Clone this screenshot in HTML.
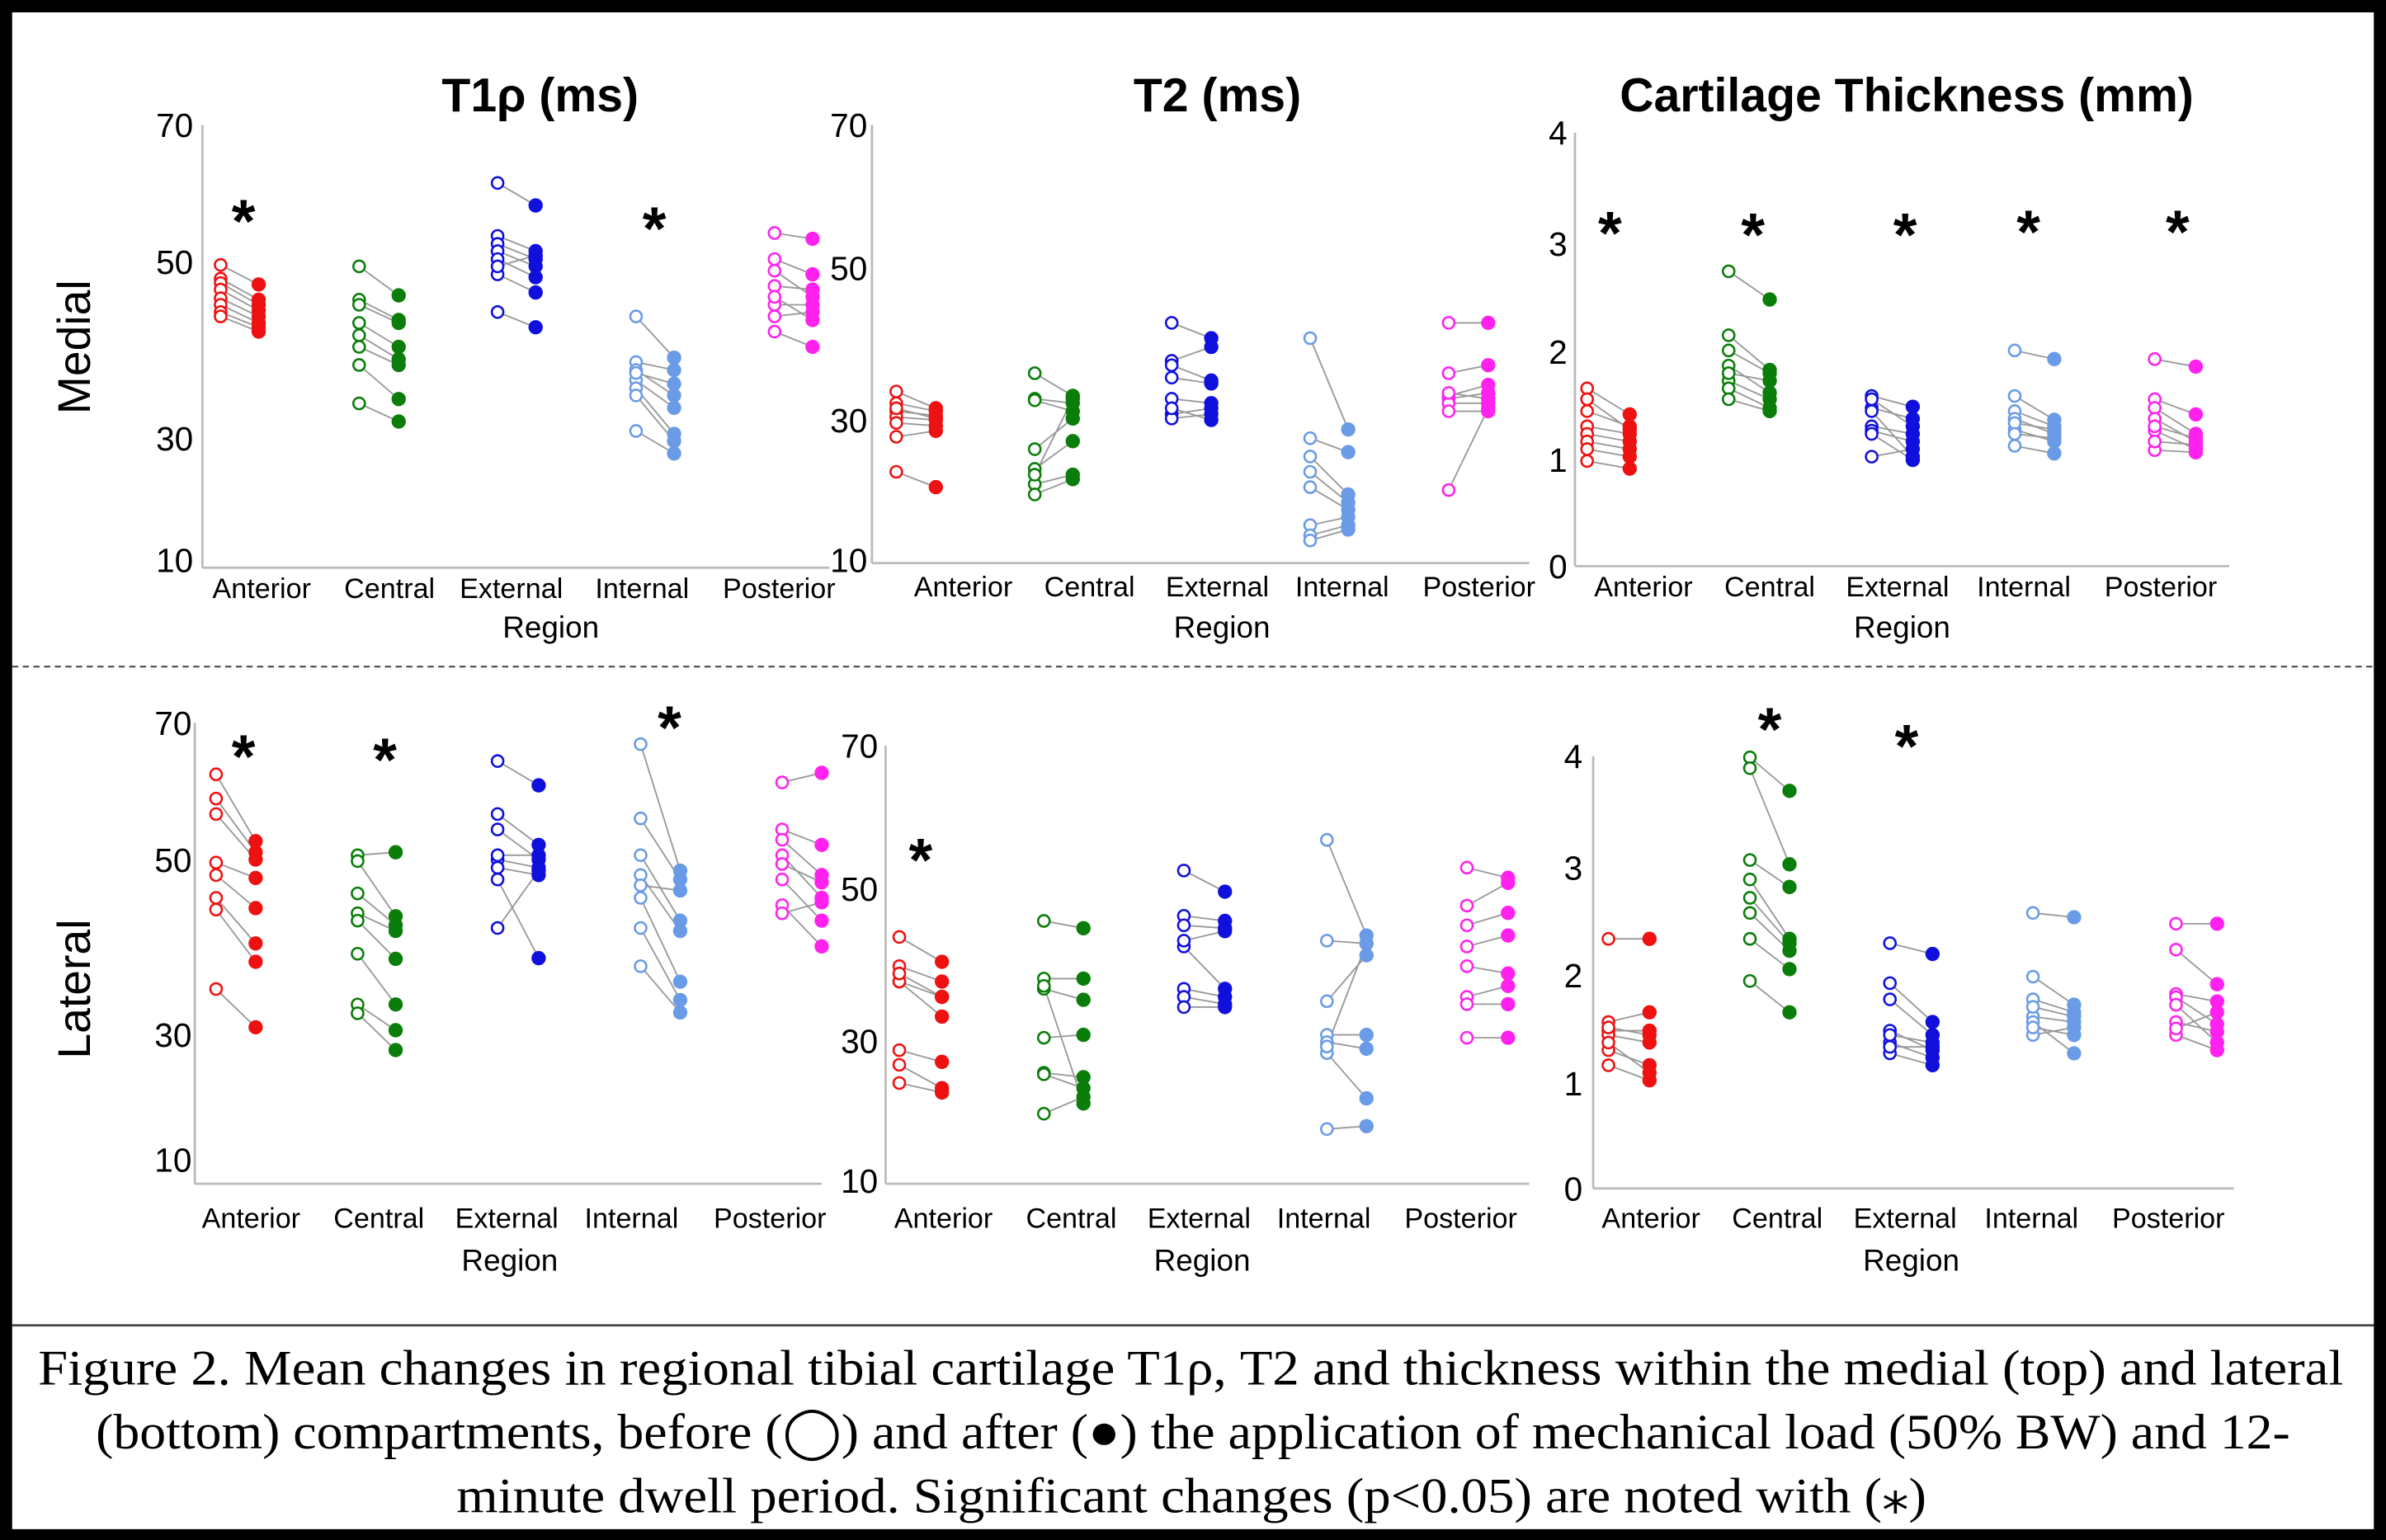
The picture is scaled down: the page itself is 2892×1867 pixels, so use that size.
<!DOCTYPE html>
<html><head><meta charset="utf-8"><style>
html,body{margin:0;padding:0;background:#000;}
svg{display:block;}
text{font-family:"Liberation Sans",sans-serif;}
</style></head><body>
<svg id="fig" width="2892" height="1867" viewBox="0 0 1568 1012" xmlns="http://www.w3.org/2000/svg">
<rect x="0" y="0" width="1568" height="1012" fill="#000"/>
<rect x="8" y="8" width="1552" height="997" fill="#fff"/>
<line x1="8" y1="871" x2="1560" y2="871" stroke="#444" stroke-width="1.5"/>
<line x1="8" y1="438" x2="1560" y2="438" stroke="#555" stroke-width="1.2" stroke-dasharray="4,3"/>
<text x="355" y="73" font-size="31" font-weight="bold" text-anchor="middle">T1ρ (ms)</text>
<text x="800" y="73" font-size="31" font-weight="bold" text-anchor="middle">T2 (ms)</text>
<text x="1253" y="73" font-size="31" font-weight="bold" text-anchor="middle">Cartilage Thickness (mm)</text>
<text transform="translate(59,228) rotate(-90)" font-size="30" text-anchor="middle">Medial</text>
<text transform="translate(59,650) rotate(-90)" font-size="30" text-anchor="middle">Lateral</text>
<g font-size="33">
<text x="25" y="910" textLength="1515" lengthAdjust="spacingAndGlyphs" style="font-family:'Liberation Serif',serif">Figure 2. Mean changes in regional tibial cartilage T1ρ, T2 and thickness within the medial (top) and lateral</text>
<text x="63" y="952" textLength="1442" lengthAdjust="spacingAndGlyphs" style="font-family:'Liberation Serif',serif">(bottom) compartments, before (◯) and after (●) the application of mechanical load (50% BW) and 12-</text>
<text x="300" y="994" textLength="966" lengthAdjust="spacingAndGlyphs" style="font-family:'Liberation Serif',serif">minute dwell period. Significant changes (p&lt;0.05) are noted with (⁎)</text>
</g>
<g id="plots"></g>
</svg>
<script>
const categories = ["Anterior","Central","External","Internal","Posterior"];
const colors = ["#ee1111","#0a7d0a","#1010dd","#6a9be6","#ff22ee"];
const p1Pre = [[50.7,48.8,48.2,47.3,46.1,45.2,44.2,43.6],[50.5,45.9,45.2,42.7,41.0,39.4,36.9,31.6],[62.0,54.7,53.6,52.6,51.5,49.4,44.2,50.5],[43.6,37.3,36.2,34.8,33.7,32.7,27.8,35.8],[55.1,51.5,49.9,45.2,43.6,41.5,47.8,46.3]];
const p1Post = [[48.0,45.9,45.2,44.4,43.6,42.7,42.1,41.5],[46.5,43.1,42.7,39.4,37.7,36.9,32.2,29.1],[58.9,52.6,51.5,50.5,49.0,46.9,42.1,52.0],[37.9,36.2,32.7,31.0,27.4,26.4,24.7,34.3],[54.3,49.4,46.3,45.2,44.2,39.4,47.3,43.1]];
const p2Pre = [[33.5,31.9,30.8,30.0,29.2,27.3,22.5,31.2],[36.0,32.5,32.3,25.6,22.9,20.8,19.4,22.1],[42.9,37.7,37.1,35.4,32.5,30.4,29.8,31.2],[40.8,27.1,24.6,22.5,20.4,15.2,13.8,13.1],[42.9,36.0,32.9,32.5,31.9,30.8,20.0,33.3]];
const p2Post = [[31.2,30.8,30.2,29.6,28.8,28.1,20.4,29.8],[32.9,31.9,30.8,29.8,26.7,22.1,21.5,32.5],[40.8,39.6,35.0,34.6,31.9,31.2,30.4,29.6],[28.3,25.2,19.4,18.3,17.3,16.3,15.2,14.6],[42.9,37.1,34.4,33.3,31.9,30.8,31.2,32.5]];
const p3Pre = [[1.64,1.43,1.29,1.22,1.15,1.08,0.97,1.54],[2.72,2.13,1.99,1.85,1.71,1.64,1.54,1.78],[1.57,1.46,1.29,1.25,1.01,1.43,1.22,1.54],[1.99,1.57,1.43,1.36,1.26,1.11,1.32,1.22],[1.91,1.54,1.46,1.36,1.25,1.07,1.29,1.15]];
const p3Post = [[1.40,1.29,1.22,1.15,1.08,1.01,0.90,1.26],[2.46,1.81,1.78,1.60,1.54,1.46,1.43,1.71],[1.47,1.36,1.22,1.15,1.08,1.01,0.98,1.29],[1.91,1.35,1.29,1.22,1.15,1.04,1.26,1.18],[1.84,1.40,1.22,1.15,1.08,1.05,1.18,1.12]];
const p4Pre = [[63.0,59.7,57.6,51.0,49.3,46.2,44.6,33.8],[52.0,51.2,46.8,44.1,43.1,38.6,31.7,30.5],[64.8,57.6,55.5,51.4,50.3,48.7,42.1,52.0],[67.1,57.0,52.0,49.3,46.2,42.1,36.9,47.9],[61.9,55.5,54.1,52.0,48.7,45.2,44.1,50.8]];
const p4Post = [[53.9,52.4,51.4,48.9,44.8,40.0,37.5,28.6],[52.4,43.7,42.5,41.7,37.9,31.7,28.2,25.5],[61.5,53.4,51.4,50.3,49.3,38.0,49.9,52.0],[49.9,48.7,43.1,41.7,34.8,32.3,30.6,47.2],[63.2,53.4,49.3,46.2,43.1,39.6,45.6,48.3]];
const p5Pre = [[43.8,39.8,37.7,37.7,28.3,26.3,23.8,38.8],[46.0,38.1,36.7,30.0,25.2,25.0,19.6,37.1],[52.9,46.7,45.4,42.5,36.7,35.6,34.2,43.3],[57.1,43.3,35.0,30.4,29.4,27.9,17.5,28.8],[53.3,48.1,45.4,42.5,39.8,35.6,34.6,30.0]];
const p5Post = [[40.4,37.7,35.6,32.9,26.7,23.1,22.5,35.6],[45.0,38.1,35.2,30.4,24.6,23.1,21.9,21.0],[50.0,46.0,45.0,36.7,35.6,34.6,34.2,44.6],[44.0,42.9,41.3,30.4,28.5,21.7,17.9,42.9],[51.9,51.2,47.1,44.0,38.8,37.1,34.6,30.0]];
const p6Pre = [[2.31,1.54,1.46,1.42,1.28,1.14,1.49,1.35],[3.99,3.89,3.04,2.86,2.69,2.31,1.92,2.55],[2.27,1.90,1.75,1.46,1.35,1.25,1.42,1.31],[2.55,1.96,1.75,1.59,1.42,1.54,1.68,1.49],[2.45,2.21,1.80,1.77,1.54,1.42,1.48,1.70]];
const p6Post = [[2.31,1.63,1.46,1.35,1.14,1.00,1.42,1.07],[3.68,3.00,2.79,2.31,2.27,2.03,1.63,2.20],[2.17,1.54,1.42,1.28,1.21,1.14,1.35,1.31],[2.51,1.70,1.63,1.54,1.49,1.25,1.59,1.42],[2.45,1.89,1.73,1.52,1.45,1.28,1.63,1.35]];
const t1Ticks = ["70","50","30","10"];
const thickTicks = ["4","3","2","1","0"];
const p1Sig = [0,3], p2Sig = [], p3Sig = [0,1,2,3,4], p4Sig = [0,1,3], p5Sig = [0], p6Sig = [1,2];

const panels = [
 {name:"medial-t1rho",pre:p1Pre,post:p1Post,sig:p1Sig,ax:133,top:82,bot:373,right:545,vmin:10,vmax:70,y0:368,y1:82,ticks:t1Ticks,tickY:[82,172,288,368],tx:127,cx:[172,256,336,422,512],preX:[145,236,327,418,509],postX:[170,262,352,443,534],regionX:362,regionY:419,catY:393,sigX:[160,0,0,430,0],sigY:[137,0,0,142,0]},
 {name:"medial-t2",pre:p2Pre,post:p2Post,sig:p2Sig,ax:573,top:82,bot:370,right:1005,vmin:10,vmax:70,y0:370,y1:82,ticks:t1Ticks,tickY:[82,176,276,368],tx:570,cx:[633,716,800,882,972],preX:[589,680,770,861,952],postX:[615,705,796,886,978],regionX:803,regionY:419,catY:392,sigX:[],sigY:[]},
 {name:"medial-thickness",pre:p3Pre,post:p3Post,sig:p3Sig,ax:1035,top:87,bot:372,right:1465,vmin:0,vmax:4,y0:372,y1:87,ticks:thickTicks,tickY:[87,160,231,302,372],tx:1030,cx:[1080,1163,1247,1330,1420],preX:[1043,1136,1230,1324,1416],postX:[1071,1163,1257,1350,1443],regionX:1250,regionY:419,catY:392,sigX:[1058,1152,1252,1333,1431],sigY:[145,146,146,144,144]},
 {name:"lateral-t1rho",pre:p4Pre,post:p4Post,sig:p4Sig,ax:128,top:475,bot:778,right:540,vmin:10,vmax:70,y0:765,y1:475,ticks:t1Ticks,tickY:[475,565,680,762],tx:126,cx:[165,249,333,415,506],preX:[142,235,327,421,514],postX:[168,260,354,447,540],regionX:335,regionY:835,catY:807,sigX:[160,253,0,440,0],sigY:[489,491,0,470,0]},
 {name:"lateral-t2",pre:p5Pre,post:p5Post,sig:p5Sig,ax:582,top:490,bot:778,right:1005,vmin:10,vmax:70,y0:778,y1:490,ticks:t1Ticks,tickY:[490,584,684,776],tx:577,cx:[620,704,788,870,960],preX:[591,686,778,872,964],postX:[619,712,805,898,991],regionX:790,regionY:835,catY:807,sigX:[605],sigY:[557]},
 {name:"lateral-thickness",pre:p6Pre,post:p6Post,sig:p6Sig,ax:1047,top:497,bot:781,right:1468,vmin:0,vmax:4,y0:781,y1:497,ticks:thickTicks,tickY:[497,570,641,712,781],tx:1040,cx:[1085,1168,1252,1335,1425],preX:[1057,1150,1242,1336,1430],postX:[1084,1176,1270,1363,1457],regionX:1256,regionY:835,catY:807,sigX:[0,1163,1253],sigY:[0,471,482]}
];
const NS="http://www.w3.org/2000/svg";
const root=document.getElementById("plots");
function mk(tag,attrs,parent){const e=document.createElementNS(NS,tag);for(const k in attrs)e.setAttribute(k,attrs[k]);parent.appendChild(e);return e;}
panels.forEach(p=>{
  const g=mk("g",{},root);
  
  
  const ys=v=>p.y0+(v-p.vmin)/(p.vmax-p.vmin)*(p.y1-p.y0);
  const ya=mk("line",{x1:p.ax,y1:p.top,x2:p.ax,y2:p.bot,stroke:"#bbb","stroke-width":1.5},g);
  
  
  const xa=mk("line",{x1:p.ax,y1:p.bot,x2:p.right,y2:p.bot,stroke:"#bbb","stroke-width":1.5},g);
  
  
  p.ticks.forEach((t,i)=>{
    const tt=mk("text",{x:p.tx,y:p.tickY[i]+8,"font-size":22,"text-anchor":"end"},g);
    tt.textContent=t;
    
    
  });
  categories.forEach((c,ci)=>{
    const ct=mk("text",{x:p.cx[ci],y:p.catY,"font-size":18.5,"text-anchor":"middle"},g);
    ct.textContent=c;
    
    
    const pre=p.pre[ci], post=p.post[ci];
    pre.forEach((v,si)=>{
      const l=mk("line",{x1:p.preX[ci],y1:ys(v),x2:p.postX[ci],y2:ys(post[si]),stroke:"#999","stroke-width":1},g);
      
      
    });
    pre.forEach(v=>{
      const m=mk("circle",{cx:p.preX[ci],cy:ys(v),r:3.8,fill:"#fff",stroke:colors[ci],"stroke-width":1.4},g);
      
      
    });
    post.forEach(v=>{
      const m=mk("circle",{cx:p.postX[ci],cy:ys(v),r:4.2,fill:colors[ci],stroke:colors[ci],"stroke-width":1},g);
      
      
    });
  });
  p.sig.forEach(ci=>{
    const s=mk("text",{x:p.sigX[ci],y:p.sigY[ci]+22,"font-size":40,"font-weight":"bold","text-anchor":"middle"},g);
    s.textContent="*";
    
    
  });
  const rt=mk("text",{x:p.regionX,y:p.regionY,"font-size":20,"text-anchor":"middle"},g);
  rt.textContent="Region";
  
  
});
</script>
</body></html>
